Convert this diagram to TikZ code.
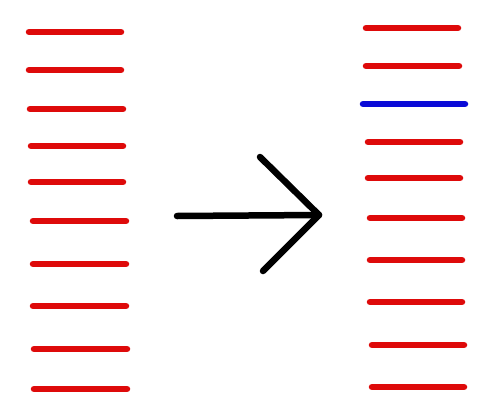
\documentclass[tikz,border=0pt]{standalone}
\definecolor{barred}{RGB}{222,10,10}
\definecolor{barblue}{RGB}{10,10,215}
\begin{document}
\begin{tikzpicture}[x=1pt,y=-1pt,
  bar/.style={line width=6.5pt,line cap=round,barred},
  bluebar/.style={line width=6.5pt,line cap=round,barblue},
  arrowline/.style={line width=6.5pt,line cap=round,line join=round,black}]
\useasboundingbox[fill=white] (0,0) rectangle (488,397);
% left column
\foreach \y/\a/\b in {32/29/121, 70/29/121, 109/30/123, 146/31/123, 182/31/123,
                      221/33/126, 264/33/126, 306/33/126, 349/34/127, 389/34/127}
  \draw[bar] (\a,\y) -- (\b,\y);
% right column
\foreach \y/\a/\b in {28/366/458, 66/366/459, 142/368/460, 178/368/460,
                      218/370/462, 260/370/462, 302/370/462, 345/372/464, 387/372/464}
  \draw[bar] (\a,\y) -- (\b,\y);
\draw[bluebar] (363,104) -- (465,104);
% arrow
\coordinate (tail) at (177,216);
\coordinate (tip) at (319,215);
\coordinate (hu) at (260,157);
\coordinate (hl) at (263,271);
\draw[arrowline] (tail) -- (tip);
\draw[arrowline] (hu) -- (tip) -- (hl);
\end{tikzpicture}
\end{document}
